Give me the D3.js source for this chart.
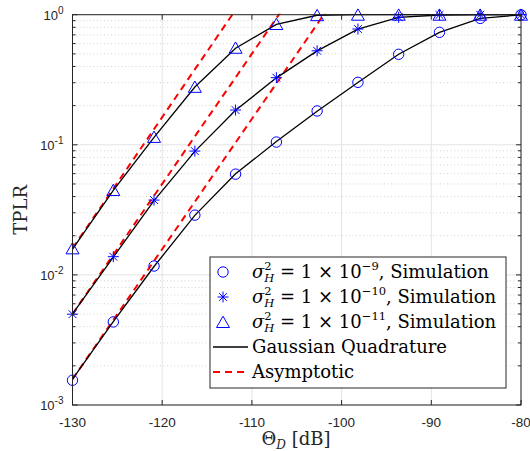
<!DOCTYPE html>
<html>
<head>
<meta charset="utf-8">
<script src="https://cdn.jsdelivr.net/npm/d3@7"></script>
<style>
  body { margin: 0; background: #fff; }
  svg { display: block; }
</style>
</head>
<body>
<svg id="chart" width="530" height="451"></svg>
<script>
// x grid (dB) at which simulation / quadrature points were taken
const thetaDb = [-130, -125.45, -120.91, -116.36, -111.82, -107.27, -102.73, -98.18, -93.64, -89.09, -84.55, -80];

// simulation markers
const simA = [0.00155, 0.00435, 0.0117, 0.0288, 0.0595, 0.105, 0.182, 0.302, 0.496, 0.732, 0.937, 0.998];  // 1e-9
const simB = [0.00499, 0.0138, 0.0376, 0.0895, 0.185, 0.328, 0.528, 0.776, 0.955, 0.995, 1.0, 1.0];     // 1e-10
const simC = [0.0160, 0.0449, 0.115, 0.279, 0.557, 0.848, 0.992, 1.0, 1.0, 1.0, 1.0, 1.0];               // 1e-11

// gaussian quadrature curves
const gqA = [0.00158, 0.00438, 0.0116, 0.0287, 0.0598, 0.106, 0.181, 0.301, 0.497, 0.731, 0.936, 0.998];
const gqB = [0.00502, 0.0137, 0.0372, 0.0890, 0.184, 0.327, 0.527, 0.775, 0.955, 0.995, 1.0, 1.0];
const gqC = [0.0158, 0.0447, 0.114, 0.278, 0.552, 0.842, 0.99, 1.0, 1.0, 1.0, 1.0, 1.0];

// asymptotic (straight on log scale, runs off the top)
const asymA = [0.00158, 0.0045, 0.0128, 0.0365, 0.104, 0.296, 0.845, 2.41];
const asymB = [0.0050, 0.0143, 0.0406, 0.116, 0.329, 0.94, 2.67];
const asymC = [0.0160, 0.0460, 0.132, 0.380, 1.09];

const xTicks = [-130, -120, -110, -100, -90, -80];
const yTicks = [1e-3, 1e-2, 1e-1, 1];
const yTickExp = ["-3", "-2", "-1", "0"];

const legendLabels = [
  { sup: "\u22129", rest: ", Simulation" },
  { sup: "\u221210", rest: ", Simulation" },
  { sup: "\u221211", rest: ", Simulation" }
];

const svg = d3.select("#chart");
const pLeft = 72.5, pRight = 521, pTop = 14.7, pBottom = 405;

const x = d3.scaleLinear().domain([-130, -80]).range([pLeft, pRight]);
const y = d3.scaleLog().domain([1e-3, 1]).range([pBottom, pTop]);

const axisColor = "#262626";

// grid
const minorVals = [];
for (let e = -3; e < 0; e++) {
  for (let m = 2; m <= 9; m++) minorVals.push(m * Math.pow(10, e));
}
svg.append("g").selectAll("line").data(minorVals).join("line")
  .attr("x1", pLeft).attr("x2", pRight)
  .attr("y1", d => y(d)).attr("y2", d => y(d))
  .attr("stroke", "#c8c8c8").attr("stroke-width", 0.8)
  .attr("stroke-dasharray", "1,2.5");
svg.append("g").selectAll("line").data(yTicks).join("line")
  .attr("x1", pLeft).attr("x2", pRight)
  .attr("y1", d => y(d)).attr("y2", d => y(d))
  .attr("stroke", "#e3e3e3").attr("stroke-width", 1);
svg.append("g").selectAll("line").data(xTicks).join("line")
  .attr("x1", d => x(d)).attr("x2", d => x(d))
  .attr("y1", pTop).attr("y2", pBottom)
  .attr("stroke", "#e3e3e3").attr("stroke-width", 1);

// clip
svg.append("clipPath").attr("id", "clip").append("rect")
  .attr("x", pLeft).attr("y", pTop - 1).attr("width", pRight - pLeft).attr("height", pBottom - pTop + 1);

const plot = svg.append("g").attr("clip-path", "url(#clip)");
const line = d3.line().x((d, i) => x(thetaDb[i])).y(d => y(d));

[asymA, asymB, asymC].forEach(s => {
  plot.append("path").attr("d", line(s))
    .attr("fill", "none").attr("stroke", "#ff0000").attr("stroke-width", 2)
    .attr("stroke-dasharray", "7,5");
});
[gqA, gqB, gqC].forEach(s => {
  svg.append("path").attr("d", line(s))
    .attr("fill", "none").attr("stroke", "#000").attr("stroke-width", 1.3);
});

// markers
const starPath = (s) => {
  const d = s * 0.707;
  return `M0,${-s}L0,${s}M${-s},0L${s},0M${-d},${-d}L${d},${d}M${-d},${d}L${d},${-d}`;
};
const triPath = "M0,-5.8L6.5,5.5L-6.5,5.5Z";
function drawMarker(g, kind, cx, cy) {
  if (kind === "o") {
    g.append("circle").attr("cx", cx).attr("cy", cy).attr("r", 5.2)
      .attr("fill", "none").attr("stroke", "#0000ff").attr("stroke-width", 1);
  } else if (kind === "*") {
    g.append("path").attr("d", starPath(5.5)).attr("transform", `translate(${cx},${cy})`)
      .attr("fill", "none").attr("stroke", "#0000ff").attr("stroke-width", 1);
  } else {
    g.append("path").attr("d", triPath).attr("transform", `translate(${cx},${cy})`)
      .attr("fill", "none").attr("stroke", "#0000ff").attr("stroke-width", 1);
  }
}
const mk = svg.append("g");
[[simA, "o"], [simB, "*"], [simC, "^"]].forEach(([s, k]) => {
  s.forEach((v, i) => drawMarker(mk, k, x(thetaDb[i]), y(v)));
});

// axes box
svg.append("rect").attr("x", pLeft).attr("y", pTop).attr("width", pRight - pLeft).attr("height", pBottom - pTop)
  .attr("fill", "none").attr("stroke", axisColor).attr("stroke-width", 1);

// ticks
const tk = svg.append("g").attr("stroke", axisColor).attr("stroke-width", 1);
xTicks.forEach(t => {
  tk.append("line").attr("x1", x(t)).attr("x2", x(t)).attr("y1", pBottom).attr("y2", pBottom - 5);
  tk.append("line").attr("x1", x(t)).attr("x2", x(t)).attr("y1", pTop).attr("y2", pTop + 5);
});
yTicks.forEach(t => {
  tk.append("line").attr("x1", pLeft).attr("x2", pLeft + 5).attr("y1", y(t)).attr("y2", y(t));
  tk.append("line").attr("x1", pRight).attr("x2", pRight - 5).attr("y1", y(t)).attr("y2", y(t));
});
minorVals.forEach(t => {
  tk.append("line").attr("x1", pLeft).attr("x2", pLeft + 3).attr("y1", y(t)).attr("y2", y(t));
  tk.append("line").attr("x1", pRight).attr("x2", pRight - 3).attr("y1", y(t)).attr("y2", y(t));
});

// tick labels
const sans = "'Liberation Sans', Arial, Helvetica, sans-serif";
svg.append("g").selectAll("text").data(xTicks).join("text")
  .attr("x", d => x(d)).attr("y", pBottom + 22)
  .attr("text-anchor", "middle").attr("font-family", sans).attr("font-size", 13.5)
  .attr("fill", axisColor).text(d => d);
yTicks.forEach((t, i) => {
  const tx = svg.append("text").attr("x", pLeft - 9).attr("y", y(t) + 5)
    .attr("text-anchor", "end").attr("font-family", sans).attr("font-size", 13).attr("fill", axisColor);
  tx.append("tspan").text("10");
  tx.append("tspan").attr("dy", -6).attr("font-size", 10).text(yTickExp[i].replace("-", "\u2010"));
});

// axis titles
const serif = "'DejaVu Serif', serif";
svg.append("text").attr("transform", `translate(27,${(pTop + pBottom) / 2}) rotate(-90)`)
  .attr("text-anchor", "middle").attr("font-family", serif).attr("font-size", 18).attr("fill", axisColor)
  .text("TPLR");
const xl = svg.append("text").attr("x", 296).attr("y", 445).attr("text-anchor", "middle")
  .attr("font-family", serif).attr("font-size", 18).attr("fill", axisColor);
xl.append("tspan").text("\u0398");
xl.append("tspan").attr("dy", 4).attr("font-size", 12).attr("font-style", "italic").text("D");
xl.append("tspan").attr("dy", -4).text(" [dB]");

// legend
const lg = svg.append("g");
lg.append("rect").attr("x", 210).attr("y", 257).attr("width", 296).attr("height", 131)
  .attr("fill", "#fff").attr("stroke", axisColor).attr("stroke-width", 1);
const rowY = [272, 297, 322, 347, 372];
const kinds = ["o", "*", "^"];
const lgFont = 18;
legendLabels.forEach((lab, i) => {
  drawMarker(lg, kinds[i], 223, rowY[i]);
  const t = lg.append("text").attr("x", 252).attr("y", rowY[i] + 6)
    .attr("font-family", serif).attr("font-size", lgFont).attr("fill", "#000");
  t.append("tspan").attr("font-style", "italic").text("\u03c3");
  t.append("tspan").attr("dy", -8).attr("font-size", 11.5).text("2");
  t.append("tspan").attr("dx", -7.3).attr("dy", 12).attr("font-size", 11.5).attr("font-style", "italic").text("H");
  t.append("tspan").attr("dy", -4).text(" = 1 \u00d7 10");
  t.append("tspan").attr("dy", -8).attr("font-size", 11.5).text(lab.sup);
  t.append("tspan").attr("dy", 8).text(lab.rest);
});
lg.append("line").attr("x1", 213).attr("x2", 248).attr("y1", rowY[3]).attr("y2", rowY[3])
  .attr("stroke", "#000").attr("stroke-width", 1.3);
lg.append("text").attr("x", 252).attr("y", rowY[3] + 6).attr("font-family", serif).attr("font-size", lgFont)
  .text("Gaussian Quadrature");
lg.append("line").attr("x1", 213).attr("x2", 248).attr("y1", rowY[4]).attr("y2", rowY[4])
  .attr("stroke", "#ff0000").attr("stroke-width", 2).attr("stroke-dasharray", "7,5");
lg.append("text").attr("x", 252).attr("y", rowY[4] + 6).attr("font-family", serif).attr("font-size", lgFont)
  .text("Asymptotic");
</script>
</body>
</html>
